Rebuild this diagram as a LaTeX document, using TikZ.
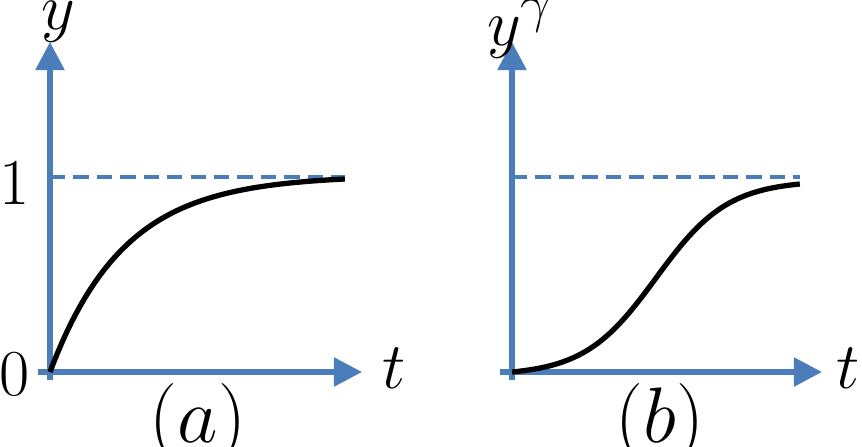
\documentclass[tikz,border=0pt]{standalone}
\usepackage{amsmath}
\usetikzlibrary{arrows.meta}
\definecolor{axisblue}{RGB}{74,125,186}
\begin{document}
\begin{tikzpicture}[x=0.03cm,y=-0.03cm,
        axis/.style={axisblue, line width=4.5pt, -{Triangle[length=24pt,width=24pt]}},
        level/.style={axisblue, line width=3.5pt, dash pattern=on 13pt off 7pt},
        curve/.style={black, line width=4.5pt},
        every node/.style={inner sep=0pt, font=\Huge, scale=2.25},
        caption/.style={font=\Huge, scale=1.2}
    ]
    \useasboundingbox (0,0) rectangle (862,447);

    % Panel (a)
    \draw[axis] (50,380) -- (50,42);
    \draw[axis] (38,372) -- (362,372);
    \draw[level] (50,177) -- (345,177);
    \draw[curve] plot[domain=0:1,samples=80] ({50+295*\x},{372-193*(1-exp(-4*\x))/(1-exp(-4))});
    \node (ya) at (58,22) {$y$};
    \node (onea) at (15,183) {$1$};
    \node (zeroa) at (15,374) {$0$};
    \node (ta) at (394,368) {$t$};
    \node[caption] (capa) at (198,423) {$(a)$};

    % Panel (b)
    \draw[axis] (512,380) -- (512,42);
    \draw[axis] (500,372) -- (822,372);
    \draw[level] (512,177) -- (800,177);
    \draw[curve] plot[domain=0:1,samples=80] ({512+288*\x},{372-195/(1+exp(-8*(\x-0.5)))+195/(1+exp(4))});
    \node (yb) at (520,28) {$y^{\gamma}$};
    \node (tb) at (848,368) {$t$};
    \node[caption] (capb) at (660,423) {$(b)$};
\end{tikzpicture}
\end{document}
